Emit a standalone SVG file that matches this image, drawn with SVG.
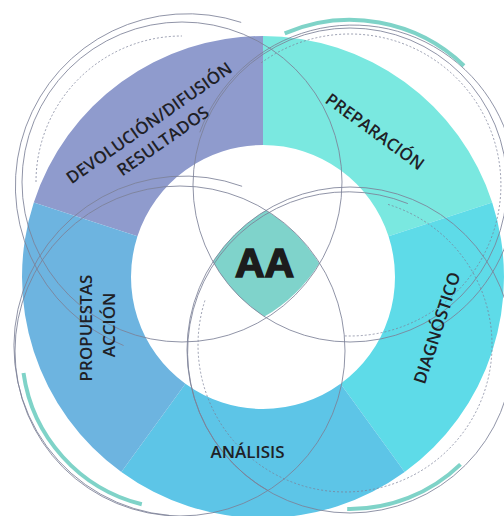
<svg xmlns="http://www.w3.org/2000/svg" width="504" height="516" viewBox="0 0 504 516">
  <defs>
    <style>
      .lbl { font-family: "Open Sans", "Liberation Sans", sans-serif; font-weight: 600; font-size: 17px; fill: #1f2126; text-anchor: middle; }
      .ln { fill: none; stroke: #7c8198; stroke-width: 1; opacity: 0.85; }
      .ds { fill: none; stroke: #7c8198; stroke-width: 0.9; stroke-dasharray: 2 2; opacity: 0.85; }
      .tl { fill: none; stroke: #7fd3c8; stroke-width: 4; }
    </style>
  </defs>
  <rect width="504" height="516" fill="#ffffff"/>

  <g id="devolucion">
    <path d="M33.80,202.53 A241,241 0 0 1 263,36 L263,145 A132,132 0 0 0 137.46,236.21 Z" fill="#8f9bcd"/>
  </g>
  <g id="preparacion">
    <path d="M263,36 A241,241 0 0 1 492.20,202.53 L388.54,236.21 A132,132 0 0 0 263,145 Z" fill="#7ae8e0"/>
  </g>
  <g id="diagnostico">
    <path d="M492.20,202.53 A241,241 0 0 1 404.66,471.97 L340.59,383.79 A132,132 0 0 0 388.54,236.21 Z" fill="#5edbe8"/>
  </g>
  <g id="analisis">
    <path d="M404.66,471.97 A241,241 0 0 1 121.34,471.97 L185.41,383.79 A132,132 0 0 0 340.59,383.79 Z" fill="#5dc5e7"/>
  </g>
  <g id="propuestas">
    <path d="M121.34,471.97 A241,241 0 0 1 33.80,202.53 L137.46,236.21 A132,132 0 0 0 185.41,383.79 Z" fill="#6db4e0"/>
  </g>
  <g id="centro">
    <path d="M213,261.7 A163,163 0 0 1 266,210.3 A165,165 0 0 1 319.2,263.4 A160,160 0 0 1 264.4,316.6 A157,157 0 0 1 213,261.7 Z" fill="#7fd3cb"/>
  </g>

  <g id="connectors">
    <!-- top-left circle -->
    <circle class="ln" cx="182" cy="182" r="160"/>
    <path class="ln" d="M123.6,345.5 A172,172 0 0 1 241.2,22.4"/>
    <path class="ds" d="M36,182 A146,146 0 0 1 182,36"/>
    <!-- top-right circle -->
    <circle class="ln" cx="350" cy="185" r="157"/>
    <path class="ln" d="M199.8,132.3 A163,163 0 1 1 434.5,329.2"/>
    <path class="ds" d="M261.2,62.8 A151,151 0 1 1 344.7,335.9"/>
    <path class="tl" d="M284.7,33.4 A165,165 0 0 1 464,65.7"/>
    <!-- bottom-left circle -->
    <circle class="ln" cx="180" cy="351" r="165"/>
    <path class="ln" d="M169.2,515.4 A170,170 0 1 1 242.1,186.3"/>
    <path class="tl" d="M141.8,504.3 A158,158 0 0 1 23.5,373"/>
    <!-- bottom-right circle -->
    <circle class="ln" cx="350" cy="350" r="163"/>
    <path class="ln" d="M268,490.6 A160,160 0 0 1 407.9,203.6"/>
    <path class="ds" d="M388,204.4 A147,147 0 1 1 205.2,299.6"/>
    <path class="tl" d="M460.5,464.4 A159,159 0 0 1 347.2,509"/>
  </g>

  <g id="labels">
    <text class="lbl" transform="translate(149,123) rotate(-35)" y="6">DEVOLUCIÓN/DIFUSIÓN</text>
    <text class="lbl" transform="translate(163,141) rotate(-35)" y="6">RESULTADOS</text>
    <text class="lbl" transform="translate(375,131.5) rotate(36)" y="6">PREPARACIÓN</text>
    <text class="lbl" transform="translate(437,328) rotate(-72)" y="6">DIAGNÓSTICO</text>
    <text class="lbl" x="247.5" y="458">ANÁLISIS</text>
    <text class="lbl" transform="translate(86,328) rotate(-90)" y="6">PROPUESTAS</text>
    <text class="lbl" transform="translate(109,325) rotate(-90)" y="6">ACCIÓN</text>
    <text x="264.5" y="276.5" font-family="'Liberation Sans', Arial, sans-serif" font-weight="700" font-size="41" fill="#1c1c1c" stroke="#1c1c1c" stroke-width="1.6" text-anchor="middle">AA</text>
  </g>
</svg>
